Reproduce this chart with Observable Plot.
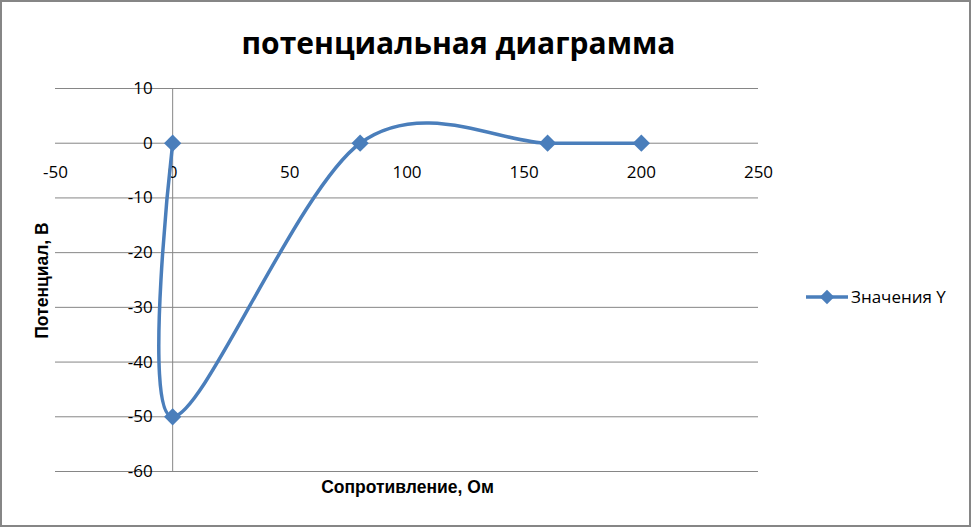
<!DOCTYPE html>
<html>
<head>
<meta charset="utf-8">
<script src="https://cdn.jsdelivr.net/npm/d3@7"></script>
<script src="https://cdn.jsdelivr.net/npm/@observablehq/plot@0.6"></script>
<style>
  html, body { margin: 0; padding: 0; background: #fff; }
  #chart svg { display: block; outline: 2px solid #868686; outline-offset: -2px; }
</style>
</head>
<body>
<div id="chart"></div>
<script>
const title = "потенциальная диаграмма";
const xLabel = "Сопротивление, Ом";
const yLabel = "Потенциал, В";
const seriesName = "Значения Y";
const xValues = [0, 0, 80, 160, 200];
const yValues = [0, -50, 0, 0, 0];
const xTicks = [-50, 0, 50, 100, 150, 200, 250];
const yTicks = [10, 0, -10, -20, -30, -40, -50, -60];

const data = xValues.map((x, i) => ({x, y: yValues[i]}));
const blue = "#4A7EBB";
const grid = "#868686";
const tickFont = "Open Sans";

const W = 971, H = 527;
const mL = 55, mR = W - 758, mT = 88, mB = H - 471;

const chart = Plot.plot({
  width: W,
  height: H,
  marginLeft: mL,
  marginRight: mR,
  marginTop: mT,
  marginBottom: mB,
  style: {background: "#fff", fontFamily: tickFont},
  x: {domain: [-50, 250], axis: null},
  y: {domain: [-60, 10], axis: null},
  marks: [
    Plot.ruleY(yTicks, {stroke: grid, strokeWidth: 1, strokeOpacity: 1}),
    Plot.ruleX([0], {y1: -60, y2: 10, stroke: grid, strokeWidth: 1}),
    Plot.text(yTicks, {x: () => 0, y: d => d, text: d => String(d), textAnchor: "end", dx: -20, fontSize: 17, fill: "#000", fontFamily: tickFont}),
    Plot.text(xTicks, {x: d => d, y: () => 0, text: d => String(d), dy: 29, fontSize: 17, fill: "#000", fontFamily: tickFont}),
    Plot.line(data, {x: "x", y: "y", curve: "cardinal", stroke: blue, strokeWidth: 3.5}),
    Plot.dot(data, {x: "x", y: "y", symbol: "diamond2", r: 7.8, fill: blue, stroke: "none"}),
    Plot.text([title], {frameAnchor: "top", dx: 458 - (mL + 758) / 2, dy: -56, fontSize: 30, fontWeight: "bold", fill: "#000", fontFamily: "Open Sans"}),
    Plot.text([xLabel], {frameAnchor: "bottom", dx: 407 - (mL + 758) / 2, dy: 21, fontSize: 17.5, fontWeight: "bold", fill: "#000", fontFamily: "Liberation Sans"}),
    Plot.text([yLabel], {frameAnchor: "left", textAnchor: "middle", dx: 42 - mL, dy: 280 - (mT + 471) / 2, rotate: -90, fontSize: 17.5, fontWeight: "bold", fill: "#000", fontFamily: "Liberation Sans"})
  ]
});

// legend (not data-driven)
const svg = d3.select(chart);
const lg = svg.append("g").attr("transform", "translate(806,297)");
lg.append("line").attr("x1", 0).attr("x2", 42).attr("y1", 0).attr("y2", 0)
  .attr("stroke", blue).attr("stroke-width", 3.5);
lg.append("path").attr("d", d3.symbol(d3.symbolDiamond2, Math.PI * 6.5 * 6.5)())
  .attr("transform", "translate(21,0)").attr("fill", blue);
lg.append("text").attr("x", 45).attr("y", 0).attr("dy", "0.35em")
  .attr("text-anchor", "start")
  .attr("font-family", tickFont).attr("font-size", 17).attr("fill", "#000")
  .text(seriesName);

document.getElementById("chart").appendChild(chart);
</script>
</body>
</html>
